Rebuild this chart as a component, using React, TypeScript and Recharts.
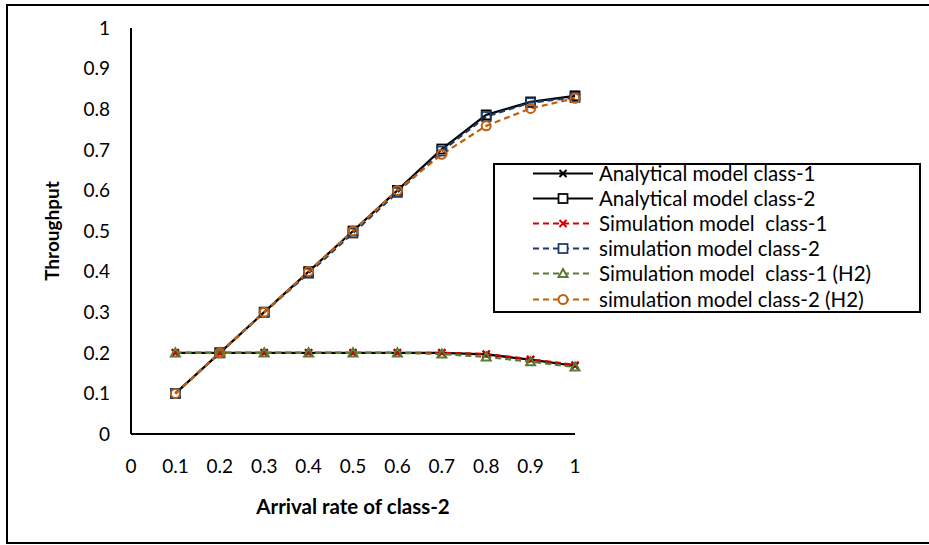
import React from 'react';
import { LineChart, Line, XAxis, YAxis, Legend } from 'recharts';

const arrivalRates = [0.1, 0.2, 0.3, 0.4, 0.5, 0.6, 0.7, 0.8, 0.9, 1];
const analyticalClass1 = [0.2, 0.2, 0.2, 0.2, 0.2, 0.2, 0.2, 0.196, 0.183, 0.168];
const analyticalClass2 = [0.1, 0.2, 0.3, 0.4, 0.5, 0.6, 0.702, 0.786, 0.818, 0.833];
const simulationClass1 = [0.2, 0.2, 0.2, 0.2, 0.2, 0.2, 0.2, 0.197, 0.184, 0.17];
const simulationClass2 = [0.1, 0.2, 0.3, 0.396, 0.495, 0.595, 0.697, 0.782, 0.816, 0.829];
const simulationH2Class1 = [0.2, 0.2, 0.2, 0.2, 0.2, 0.2, 0.197, 0.19, 0.178, 0.165];
const simulationH2Class2 = [0.1, 0.2, 0.3, 0.4, 0.5, 0.6, 0.689, 0.759, 0.802, 0.827];

const xTicks = [0, 0.1, 0.2, 0.3, 0.4, 0.5, 0.6, 0.7, 0.8, 0.9, 1];
const yTicks = [0, 0.1, 0.2, 0.3, 0.4, 0.5, 0.6, 0.7, 0.8, 0.9, 1];

const data = arrivalRates.map((x, i) => ({
  x,
  a1: analyticalClass1[i],
  a2: analyticalClass2[i],
  s1: simulationClass1[i],
  s2: simulationClass2[i],
  h1: simulationH2Class1[i],
  h2: simulationH2Class2[i],
}));

const FONT = 'Lato, "Open Sans", sans-serif';

type MarkerKind = 'x' | 'square' | 'triangle' | 'circle';

const series: { key: string; name: string; color: string; dashed: boolean; marker: MarkerKind }[] = [
  { key: 'a1', name: 'Analytical model class-1', color: '#000000', dashed: false, marker: 'x' },
  { key: 'a2', name: 'Analytical model class-2', color: '#000000', dashed: false, marker: 'square' },
  { key: 's1', name: 'Simulation model  class-1', color: '#D00000', dashed: true, marker: 'x' },
  { key: 's2', name: 'simulation model class-2', color: '#1F3A68', dashed: true, marker: 'square' },
  { key: 'h1', name: 'Simulation model  class-1 (H2)', color: '#5B7B33', dashed: true, marker: 'triangle' },
  { key: 'h2', name: 'simulation model class-2 (H2)', color: '#C0600F', dashed: true, marker: 'circle' },
];

function Marker({ kind, cx, cy, color, fill }: { kind: MarkerKind; cx: number; cy: number; color: string; fill: string }) {
  if (cx == null || cy == null) return null;
  if (kind === 'x') {
    const r = 3.5;
    return (
      <path
        d={`M${cx - r},${cy - r}L${cx + r},${cy + r}M${cx - r},${cy + r}L${cx + r},${cy - r}`}
        stroke={color}
        strokeWidth={2}
        fill="none"
      />
    );
  }
  if (kind === 'square') {
    const r = 4.5;
    return <rect x={cx - r} y={cy - r} width={2 * r} height={2 * r} stroke={color} strokeWidth={1.75} fill={fill} />;
  }
  if (kind === 'triangle') {
    const r = 4.5;
    return (
      <path
        d={`M${cx},${cy - r}L${cx + r},${cy + r * 0.8}L${cx - r},${cy + r * 0.8}Z`}
        stroke={color}
        strokeWidth={2}
        fill={fill}
      />
    );
  }
  return <circle cx={cx} cy={cy} r={4.5} stroke={color} strokeWidth={2} fill={fill} />;
}

function LegendContent() {
  return (
    <div
      style={{
        width: 428,
        height: 150,
        boxSizing: 'border-box',
        border: '2px solid #000',
        background: '#fff',
        position: 'relative',
        fontFamily: FONT,
      }}
    >
      {series.map((s, i) => (
        <div key={s.key} style={{ position: 'absolute', left: 0, top: 8 + 25.2 * i - 12.5, height: 25, width: '100%' }}>
          <svg width={70} height={25} style={{ position: 'absolute', left: 36, top: 0 }}>
            <line
              x1={2}
              x2={62}
              y1={12.5}
              y2={12.5}
              stroke={s.color}
              strokeWidth={2}
              strokeDasharray={s.dashed ? '6 4' : undefined}
            />
            <Marker kind={s.marker} cx={32} cy={12.5} color={s.color} fill="#fff" />
          </svg>
          <span
            style={{
              position: 'absolute',
              left: 104,
              top: 0,
              lineHeight: '25px',
              fontSize: 20.5,
              color: '#000',
              whiteSpace: 'pre',
            }}
          >
            {s.name}
          </span>
        </div>
      ))}
    </div>
  );
}

export default function App() {
  return (
    <div style={{ position: 'absolute', left: 0, top: 0, width: 929, height: 545, overflow: 'hidden' }}>
      <div
        style={{
          position: 'absolute',
          left: 6,
          top: 4,
          width: 930,
          height: 540,
          boxSizing: 'border-box',
          border: '2px solid #000',
          background: '#fff',
        }}
      />
      <div style={{ position: 'absolute', left: 0, top: 0 }}>
        <LineChart
          width={929}
          height={545}
          data={data}
          margin={{ top: 28, right: 354, bottom: 31, left: 0 }}
          style={{ fontFamily: FONT }}
        >
          <XAxis
            dataKey="x"
            type="number"
            domain={[0, 1]}
            ticks={xTicks}
            tickFormatter={(v: number) => String(v)}
            height={80}
            axisLine={{ stroke: '#000', strokeWidth: 2 }}
            tickLine={false}
            tickSize={0}
            tickMargin={26}
            tick={{ fill: '#000', fontSize: 19, fontFamily: FONT }}
            interval={0}
            label={(props: any) => {
              const vb = props.viewBox || { x: 131, y: 434, width: 444 };
              return (
                <text
                  x={vb.x + vb.width / 2}
                  y={514}
                  textAnchor="middle"
                  fontSize={20.5}
                  fontWeight="bold"
                  fontFamily={FONT}
                  fill="#000"
                >
                  Arrival rate of class-2
                </text>
              );
            }}
          />
          <YAxis
            type="number"
            domain={[0, 1]}
            ticks={yTicks}
            tickFormatter={(v: number) => String(v)}
            width={131}
            axisLine={{ stroke: '#000', strokeWidth: 2 }}
            tickLine={false}
            tickSize={0}
            tickMargin={21}
            tick={{ fill: '#000', fontSize: 19, fontFamily: FONT }}
            interval={0}
            label={() => (
              <text
                x={59}
                y={231}
                textAnchor="middle"
                transform="rotate(-90, 59, 231)"
                fontSize={19}
                fontWeight="bold"
                fontFamily={FONT}
                fill="#000"
              >
                Throughput
              </text>
            )}
          />
          <Legend
            layout="vertical"
            align="center"
            verticalAlign="middle"
            content={() => <LegendContent />}
            wrapperStyle={{ position: 'absolute', left: 493, top: 163, width: 428, height: 150, margin: 0 }}
          />
          {series.map((s) => (
            <Line
              key={s.key}
              type="linear"
              dataKey={s.key}
              name={s.name}
              stroke={s.color}
              strokeWidth={2.25}
              strokeDasharray={s.dashed ? '6 4' : undefined}
              isAnimationActive={false}
              dot={(p: any) => <Marker key={`${s.key}-${p.index}`} kind={s.marker} cx={p.cx} cy={p.cy} color={s.color} fill="none" />}
              activeDot={false}
            />
          ))}
        </LineChart>
      </div>
    </div>
  );
}
